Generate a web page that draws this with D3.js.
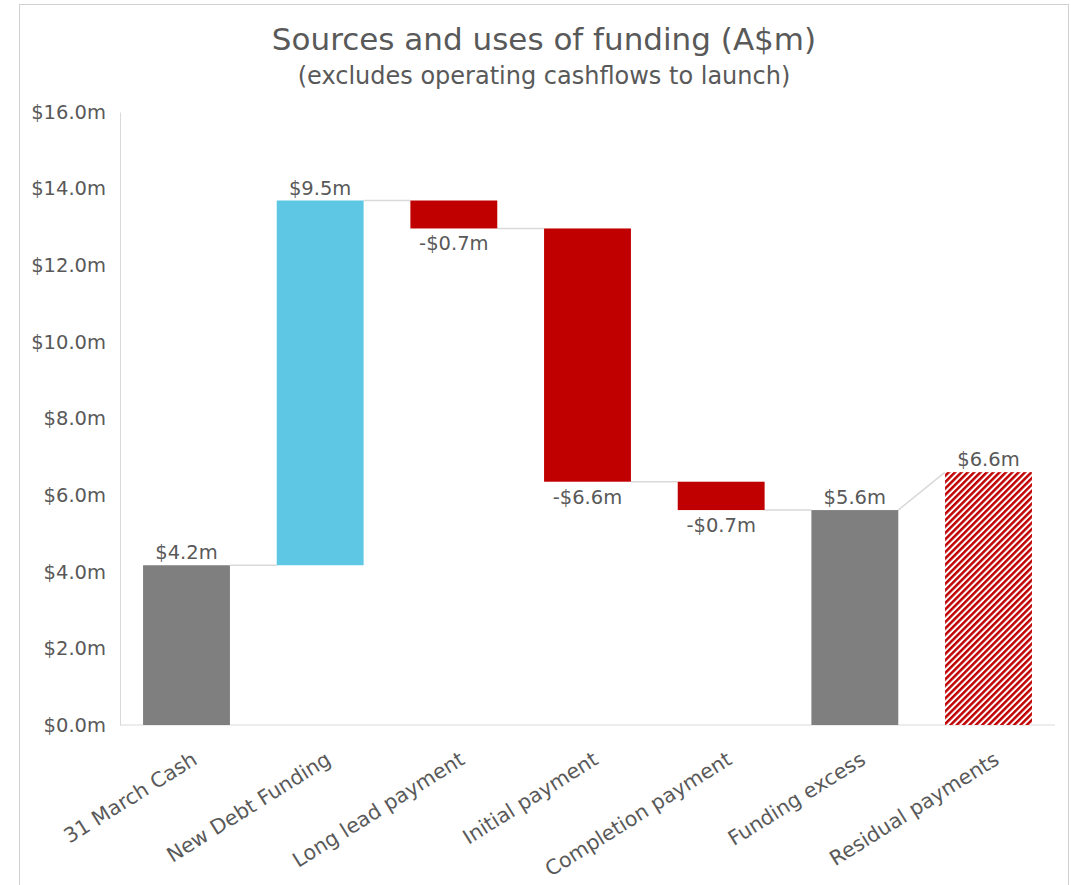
<!DOCTYPE html>
<html>
<head>
<meta charset="utf-8">
<script src="https://cdn.jsdelivr.net/npm/d3@7"></script>
<style>
  body { margin: 0; background: #fff; }
  text { font-family: "Century Gothic", "DejaVu Sans", sans-serif; fill: #595959; }
</style>
</head>
<body>
<div id="chart"></div>
<script>
// données (A$m)
const categories = ["31 March Cash", "New Debt Funding", "Long lead payment", "Initial payment",
                    "Completion payment", "Funding excess", "Residual payments"];
const values = [4.17, 9.52, -0.73, -6.61, -0.74, 5.61, 6.6];
const kinds = ["total", "up", "down", "down", "down", "total", "residual"];
const yTicks = [0, 2, 4, 6, 8, 10, 12, 14, 16];

const width = 1071;
const height = 885;

const colors = { total: "#7f7f7f", up: "#5ec8e4", down: "#c00000" };

const svg = d3.select("#chart")
    .append("svg")
    .attr("width", width)
    .attr("height", height);

// motif hachuré pour la dernière barre
const defs = svg.append("defs");
const pat = defs.append("pattern")
    .attr("id", "hatch")
    .attr("patternUnits", "userSpaceOnUse")
    .attr("width", 4.5)
    .attr("height", 4.5)
    .attr("patternTransform", "rotate(45)");
pat.append("rect").attr("width", 4.5).attr("height", 4.5).attr("fill", "#fff");
pat.append("rect").attr("width", 2.5).attr("height", 4.5).attr("fill", "#c00000");

// cadre extérieur
svg.append("rect")
    .attr("x", 19.5).attr("y", 4.5)
    .attr("width", 1049).attr("height", 900)
    .attr("fill", "none")
    .attr("stroke", "#d0d0d0");

const x = d3.scaleBand()
    .domain(categories)
    .range([121, 1054])
    .paddingInner(0.35)
    .paddingOuter(0.165);

const y = d3.scaleLinear()
    .domain([0, 16])
    .range([725, 112]);

// calcul des débuts / fins de chaque barre
let running = 0;
const bars = categories.map((c, i) => {
    let start, end;
    if (kinds[i] === "total" || kinds[i] === "residual") {
        start = 0; end = values[i]; running = values[i];
    } else {
        start = running; end = running + values[i]; running = end;
    }
    return { cat: c, value: values[i], kind: kinds[i], start: start, end: end };
});

// titre
svg.append("text")
    .attr("x", 544).attr("y", 50)
    .attr("text-anchor", "middle")
    .style("font-size", "31px")
    .text("Sources and uses of funding (A$m)");
svg.append("text")
    .attr("x", 544).attr("y", 84)
    .attr("text-anchor", "middle")
    .style("font-size", "24px")
    .text("(excludes operating cashflows to launch)");

// axe Y
const yAxis = svg.append("g")
    .attr("transform", "translate(120,0)")
    .call(d3.axisLeft(y).tickValues(yTicks).tickSize(0).tickPadding(14)
        .tickFormat(d => "$" + d.toFixed(1) + "m"));
yAxis.select(".domain").attr("stroke", "#d9d9d9");
yAxis.selectAll("text").style("font-size", "19.5px").attr("fill", "#595959");

// axe X
svg.append("line")
    .attr("x1", 120).attr("x2", 1055)
    .attr("y1", y(0)).attr("y2", y(0))
    .attr("stroke", "#d9d9d9");

// connecteurs
for (let i = 0; i < bars.length - 1; i++) {
    const a = bars[i], b = bars[i + 1];
    const yNext = b.kind === "residual" ? b.end : a.end;
    svg.append("line")
        .attr("x1", x(a.cat) + x.bandwidth()).attr("y1", y(a.end))
        .attr("x2", x(b.cat)).attr("y2", y(yNext))
        .attr("stroke", "#d9d9d9")
        .attr("stroke-width", 1.5);
}

// barres
svg.selectAll(".bar")
    .data(bars)
    .join("rect")
    .attr("class", "bar")
    .attr("x", d => x(d.cat))
    .attr("width", x.bandwidth())
    .attr("y", d => y(Math.max(d.start, d.end)))
    .attr("height", d => Math.abs(y(d.start) - y(d.end)))
    .attr("fill", d => d.kind === "residual" ? "url(#hatch)" : colors[d.kind]);

// étiquettes de valeur
svg.selectAll(".lbl")
    .data(bars)
    .join("text")
    .attr("class", "lbl")
    .attr("x", d => x(d.cat) + x.bandwidth() / 2)
    .attr("y", d => d.kind === "down" ? y(d.end) + 22 : y(d.end) - 6)
    .attr("text-anchor", "middle")
    .style("font-size", "19.5px")
    .text(d => (d.value < 0 ? "-$" : "$") + Math.abs(d.value).toFixed(1) + "m");

// libellés des catégories, inclinés
svg.selectAll(".cat")
    .data(categories)
    .join("text")
    .attr("class", "cat")
    .attr("transform", d => "translate(" + (x(d) + x.bandwidth() / 2 + 4) + ",750) rotate(-32)")
    .attr("dy", "0.75em")
    .attr("text-anchor", "end")
    .style("font-size", "20.5px")
    .text(d => d);
</script>
</body>
</html>
